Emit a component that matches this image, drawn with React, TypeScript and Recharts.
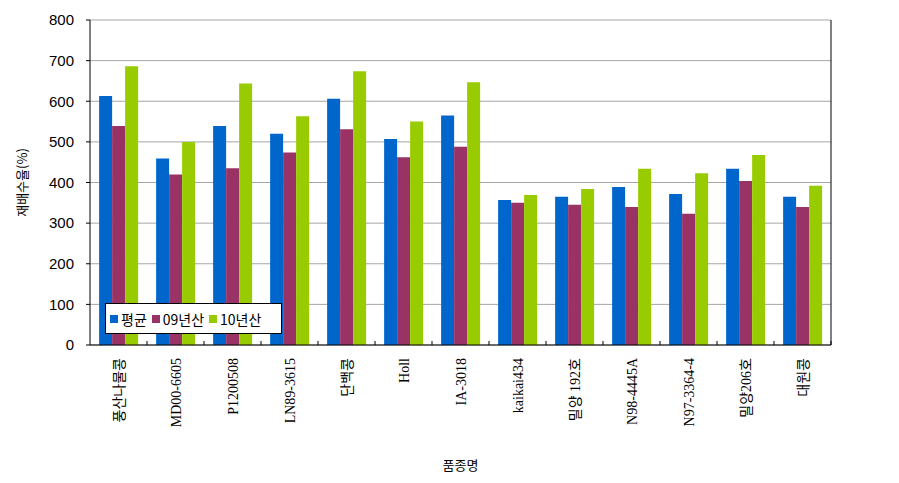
import { Bar, BarChart, CartesianGrid, XAxis, YAxis } from "recharts";

const categories = [
  "풍산나물콩",
  "MD00-6605",
  "P1200508",
  "LN89-3615",
  "단백콩",
  "Holl",
  "IA-3018",
  "kaikai434",
  "밀양 192호",
  "N98-4445A",
  "N97-3364-4",
  "밀양206호",
  "대원콩"
];

const avgValues = [613, 459, 539, 520, 606, 507, 565, 357, 365, 389, 372, 434, 365];
const y09Values = [539, 420, 435, 474, 531, 462, 488, 350, 345, 340, 323, 404, 340];
const y10Values = [686, 500, 644, 563, 674, 550, 647, 369, 384, 434, 423, 468, 392];

const yTicks = [0, 100, 200, 300, 400, 500, 600, 700, 800];

const series = [
  { key: "avg", name: "평균", color: "#0066CC" },
  { key: "y09", name: "09년산", color: "#993366" },
  { key: "y10", name: "10년산", color: "#99CC00" }
];

const chartData = categories.map((name, i) => ({
  name,
  avg: avgValues[i],
  y09: y09Values[i],
  y10: y10Values[i]
}));

const W = 899;
const H = 483;
const plotLeft = 90;
const plotRight = 831;
const halfBand = (plotRight - plotLeft) / categories.length / 2;

const labelFont = "'Liberation Serif', 'Noto Sans CJK KR', serif";
const tickFont = "'Liberation Sans', 'Noto Sans CJK KR', sans-serif";
const krFont = "'Noto Sans CJK KR', sans-serif";

function CategoryTick(props: any) {
  const { x, y, payload } = props;
  return (
    <g transform={`translate(${x},${y})`}>
      <line x1={halfBand} x2={halfBand} y1={-4} y2={0} stroke="#000" />
      <text
        transform="rotate(-90)"
        x={-13}
        y={0}
        dy={5}
        textAnchor="end"
        fontSize={14}
        fontFamily={labelFont}
        fill="#000"
      >
        {payload.value}
      </text>
    </g>
  );
}

export default function App() {
  return (
    <div style={{ position: "absolute", left: 0, top: 0, width: W, height: H, background: "#fff" }}>
      <BarChart
        width={W}
        height={H}
        data={chartData}
        margin={{ top: 20, right: W - plotRight - 2, left: 0, bottom: 0 }}
        barCategoryGap="16%"
        barGap={0}
      >
        <CartesianGrid vertical={false} stroke="#a6a6a6" />
        <XAxis
          dataKey="name"
          interval={0}
          height={138}
          tick={<CategoryTick />}
          tickLine={false}
          tickSize={0}
          tickMargin={0}
          axisLine={{ stroke: "#000" }}
        />
        <XAxis
          xAxisId="top"
          dataKey="name"
          orientation="top"
          height={0}
          tick={false}
          tickLine={false}
          axisLine={{ stroke: "#000" }}
        />
        <YAxis
          domain={[0, 800]}
          ticks={yTicks}
          width={plotLeft}
          interval={0}
          tickLine={{ stroke: "#000" }}
          tickSize={4}
          tickMargin={12}
          axisLine={{ stroke: "#000" }}
          tick={{ fontSize: 15, fill: "#000", fontFamily: tickFont }}
          label={{
            value: "재배수율(%)",
            angle: -90,
            position: "insideLeft",
            offset: 22,
            style: { fontSize: 13, fill: "#000", fontFamily: krFont, textAnchor: "middle" }
          }}
        />
        <YAxis
          yAxisId="right"
          orientation="right"
          domain={[0, 800]}
          width={2}
          tick={false}
          tickLine={false}
          axisLine={{ stroke: "#000" }}
        />
        {series.map((s) => (
          <Bar key={s.key} dataKey={s.key} name={s.name} fill={s.color} isAnimationActive={false} />
        ))}
      </BarChart>
      <div
        style={{
          position: "absolute",
          left: 105,
          top: 303,
          width: 177,
          height: 31,
          border: "1px solid #000",
          background: "#fff",
          display: "flex",
          alignItems: "center",
          paddingLeft: 4,
          gap: 5,
          fontFamily: krFont,
          fontSize: 14,
          boxSizing: "border-box"
        }}
      >
        {series.map((s) => (
          <span key={s.key} style={{ display: "flex", alignItems: "center", gap: 3 }}>
            <span style={{ width: 8, height: 8, background: s.color, display: "inline-block" }} />
            {s.name}
          </span>
        ))}
      </div>
      <div
        style={{
          position: "absolute",
          left: plotLeft,
          width: plotRight - plotLeft,
          top: 455,
          textAlign: "center",
          fontFamily: krFont,
          fontSize: 13
        }}
      >
        품종명
      </div>
    </div>
  );
}
